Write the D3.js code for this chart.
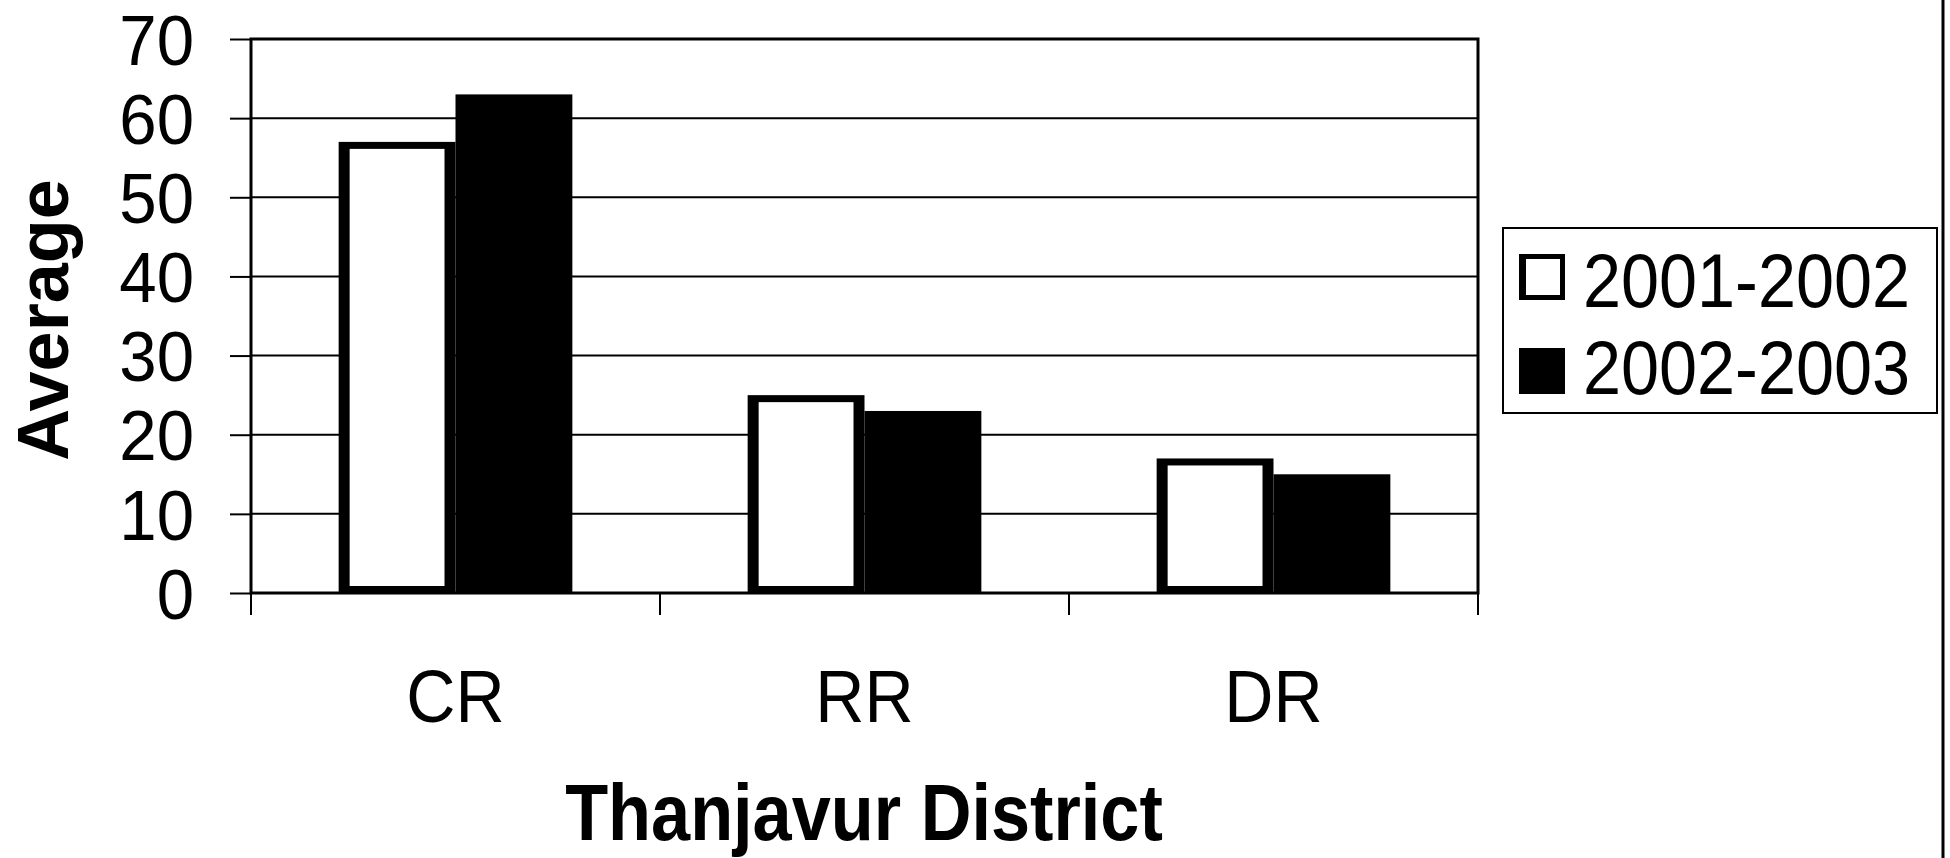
<!DOCTYPE html>
<html><head><meta charset="utf-8">
<script src="https://cdn.jsdelivr.net/npm/d3@7"></script>
<style>html,body{margin:0;padding:0;background:#fff;} svg{display:block;}</style>
</head><body>
<svg id="chart" width="1950" height="858"></svg>
<script>
// ---- data ----
const categories = ["CR", "RR", "DR"];
const seriesNames = ["2001-2002", "2002-2003"];
const values2001_2002 = [57, 25, 17];
const values2002_2003 = [63, 23, 15];
const yTicks = [0, 10, 20, 30, 40, 50, 60, 70];
const yTitle = "Average";
const xTitle = "Thanjavur District";

// ---- layout ----
const plot = {left: 251, right: 1478, top: 39, bottom: 593};
const K = 0.89;      // horizontal squeeze of titles / legend text
const KT = 0.96;     // squeeze of y tick labels
const KC = 0.92;     // squeeze of category labels
const FONT = "'Liberation Sans', Arial, Helvetica, sans-serif";

const svg = d3.select("#chart");
svg.append("rect").attr("width", 1950).attr("height", 858).attr("fill", "#fff");

const y = d3.scaleLinear().domain([0, 70]).range([plot.bottom, plot.top]);
const x0 = d3.scaleBand().domain(categories).range([plot.left, plot.right])
  .paddingInner(3 / 7).paddingOuter(1.5 / 7);
const x1 = d3.scaleBand().domain(seriesNames).range([0, x0.bandwidth()]);
const fillColor = d3.scaleOrdinal().domain(seriesNames).range(["#ffffff", "#000000"]);

const seriesData = [values2001_2002, values2002_2003];
const rows = categories.map((c, i) => ({
  cat: c,
  vals: seriesNames.map((s, j) => ({s, v: seriesData[j][i], cat: c}))
}));

// gridlines
svg.append("g").selectAll("line").data(yTicks.filter(d => d > 0 && d < 70)).join("line")
  .attr("x1", plot.left).attr("x2", plot.right)
  .attr("y1", d => y(d)).attr("y2", d => y(d))
  .attr("stroke", "#000").attr("stroke-width", 2);

// bars
const gBars = svg.append("g");
const groups = gBars.selectAll("g").data(rows).join("g")
  .attr("transform", d => `translate(${x0(d.cat)},0)`);
groups.selectAll("rect.outer").data(d => d.vals).join("rect")
  .attr("class", "outer")
  .attr("x", d => x1(d.s)).attr("width", x1.bandwidth())
  .attr("y", d => y(d.v)).attr("height", d => y(0) - y(d.v))
  .attr("fill", "#000");
const bx = 11, by = 7;
groups.selectAll("rect.inner").data(d => d.vals.filter(v => fillColor(v.s) === "#ffffff")).join("rect")
  .attr("class", "inner")
  .attr("x", d => x1(d.s) + bx).attr("width", x1.bandwidth() - 2 * bx)
  .attr("y", d => y(d.v) + by).attr("height", d => y(0) - y(d.v) - 2 * by)
  .attr("fill", d => fillColor(d.s));

// plot border
svg.append("rect")
  .attr("x", plot.left).attr("y", plot.top)
  .attr("width", plot.right - plot.left).attr("height", plot.bottom - plot.top)
  .attr("fill", "none").attr("stroke", "#000").attr("stroke-width", 3);

// y axis
const yAxis = svg.append("g").attr("transform", `translate(${plot.left},0)`)
  .call(d3.axisLeft(y).tickValues(yTicks).tickSize(21).tickPadding(36).tickFormat(d3.format("d")));
yAxis.select(".domain").remove();
yAxis.selectAll(".tick line").attr("stroke", "#000").attr("stroke-width", 2);
yAxis.selectAll(".tick text")
  .attr("font-family", FONT).attr("font-size", 70).attr("fill", "#000")
  .attr("x", -57 / KT).attr("dy", "0.36em")
  .attr("transform", `scale(${KT},1)`);

// x axis tick marks at category boundaries
const gap = x0.step() - x0.bandwidth();
const bounds = categories.map(c => x0(c) - gap / 2).concat([plot.right]);
svg.append("g").selectAll("line").data(bounds).join("line")
  .attr("x1", d => d).attr("x2", d => d)
  .attr("y1", plot.bottom).attr("y2", plot.bottom + 22)
  .attr("stroke", "#000").attr("stroke-width", 2);

// x axis labels
const xAxis = svg.append("g").attr("transform", `translate(0,${plot.bottom})`)
  .call(d3.axisBottom(x0).tickSize(0).tickPadding(76));
xAxis.select(".domain").remove();
xAxis.selectAll(".tick text")
  .attr("font-family", FONT).attr("font-size", 74).attr("fill", "#000")
  .attr("transform", `scale(${KC},1)`)
  .attr("x", 0);

// axis titles
svg.append("text")
  .attr("transform", `translate(864,840) scale(${K},1)`)
  .attr("text-anchor", "middle")
  .attr("font-family", FONT).attr("font-weight", "bold").attr("font-size", 79)
  .attr("fill", "#000").text(xTitle);

svg.append("text")
  .attr("transform", "translate(68,320) rotate(-90)")
  .attr("text-anchor", "middle")
  .attr("font-family", FONT).attr("font-weight", "bold").attr("font-size", 72)
  .attr("fill", "#000").text(yTitle);

// legend
const lg = svg.append("g");
lg.append("rect").attr("x", 1503).attr("y", 228).attr("width", 434).attr("height", 185)
  .attr("fill", "#fff").attr("stroke", "#000").attr("stroke-width", 2);
const legendRows = [{s: seriesNames[0], top: 254, base: 307}, {s: seriesNames[1], top: 348, base: 394}];
const li = lg.selectAll("g.item").data(legendRows).join("g").attr("class", "item");
li.append("rect").attr("x", 1519).attr("y", d => d.top).attr("width", 46).attr("height", 46)
  .attr("fill", "#000");
li.filter(d => fillColor(d.s) === "#ffffff").append("rect")
  .attr("x", 1519 + 7).attr("y", d => d.top + 5).attr("width", 46 - 12).attr("height", 46 - 10)
  .attr("fill", "#fff");
li.append("text")
  .attr("transform", d => `translate(1583,${d.base}) scale(0.9,1)`)
  .attr("font-family", FONT).attr("font-size", 76).attr("fill", "#000")
  .text(d => d.s);

// right frame line
svg.append("line").attr("x1", 1943).attr("x2", 1943).attr("y1", 0).attr("y2", 858)
  .attr("stroke", "#000").attr("stroke-width", 3);
</script>
</body></html>
